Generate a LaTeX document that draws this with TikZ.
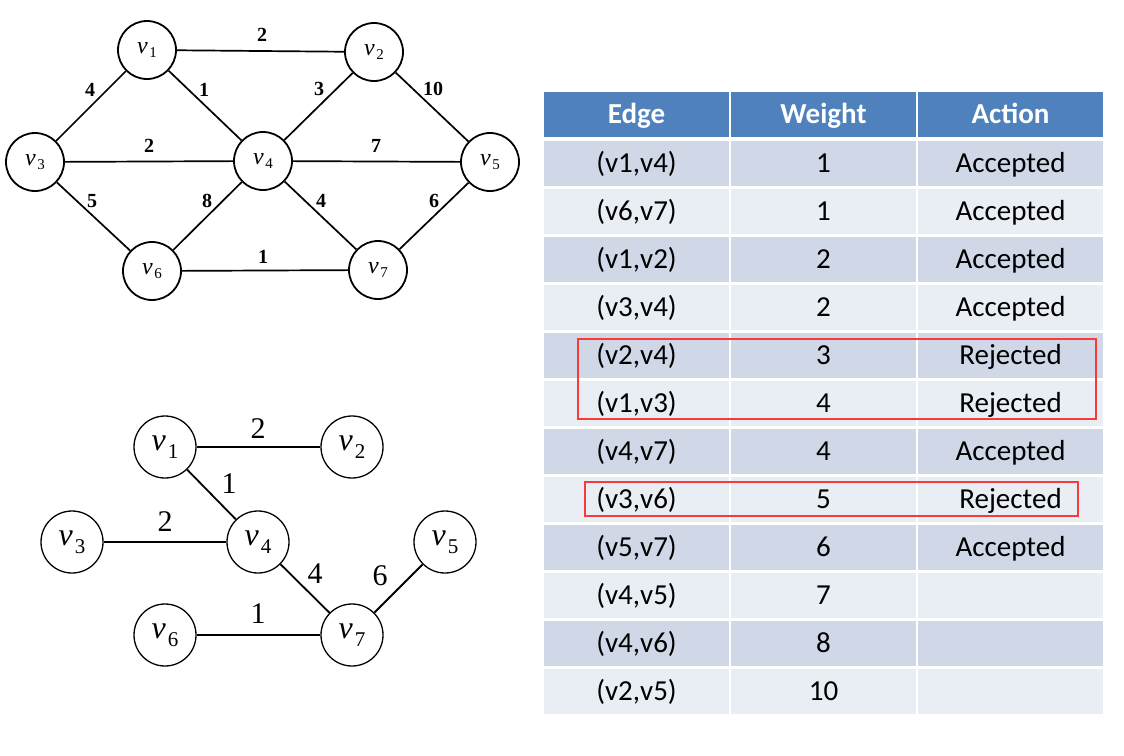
\documentclass[tikz,border=0pt]{standalone}
\usepackage{fontspec}
\setmainfont{Liberation Serif}
\newfontfamily\tabfont{Carlito}
\definecolor{hdr}{HTML}{4F81BD}
\definecolor{rowa}{HTML}{D0D8E8}
\definecolor{rowb}{HTML}{E9EDF4}
\definecolor{rej}{HTML}{F83A3A}
\newcommand{\tv}[1]{{\fontsize{24}{24}\selectfont\itshape v}\kern1.5pt\raisebox{-4pt}{\fontsize{15}{15}\selectfont #1}}
\newcommand{\bv}[1]{{\fontsize{32}{32}\selectfont\itshape v}\kern2pt\raisebox{-8pt}{\fontsize{21}{21}\selectfont #1}}
\tikzset{
  tnode/.style={circle, draw, line width=1.8pt, minimum size=58pt, inner sep=0pt},
  bnode/.style={circle, draw, line width=1.3pt, minimum size=62pt, inner sep=0pt},
  tedge/.style={line width=1.7pt},
  bedge/.style={line width=1.8pt},
  tlbl/.style={font=\bfseries\fontsize{20}{20}\selectfont, inner sep=0pt},
  blbl/.style={font=\fontsize{30}{30}\selectfont, inner sep=0pt},
  cell/.style={minimum width=185pt, minimum height=45pt, inner sep=0pt, text height=18.5pt, text depth=0pt},
  hcell/.style={cell, fill=hdr, text=white, font=\tabfont\bfseries\fontsize{29}{29}\selectfont},
  bcell/.style={cell, font=\tabfont\fontsize{29}{29}\selectfont},
  redbox/.style={draw=rej, line width=2.7pt}
}
\begin{document}
\begin{tikzpicture}[x=1pt,y=-1pt]
\useasboundingbox[fill=white] (0,0) rectangle (1124,755);
% ---- top graph ----
\node[tnode] (t1) at (147,50) {\tv{1}};
\node[tnode] (t2) at (374,52) {\tv{2}};
\node[tnode] (t3) at (35,162) {\tv{3}};
\node[tnode] (t4) at (263,161) {\tv{4}};
\node[tnode] (t5) at (490,162) {\tv{5}};
\node[tnode] (t6) at (152,271) {\tv{6}};
\node[tnode] (t7) at (378,270) {\tv{7}};
\draw[tedge] (t1) -- (t2);
\draw[tedge] (t1) -- (t3);
\draw[tedge] (t1) -- (t4);
\draw[tedge] (t2) -- (t4);
\draw[tedge] (t2) -- (t5);
\draw[tedge] (t3) -- (t4);
\draw[tedge] (t4) -- (t5);
\draw[tedge] (t3) -- (t6);
\draw[tedge] (t4) -- (t6);
\draw[tedge] (t4) -- (t7);
\draw[tedge] (t5) -- (t7);
\draw[tedge] (t6) -- (t7);
\node[tlbl] (l12) at (262,35) {2};
\node[tlbl] (l13) at (90,90) {4};
\node[tlbl] (l14) at (204,90) {1};
\node[tlbl] (l24) at (319,89) {3};
\node[tlbl] (l25) at (433,89) {10};
\node[tlbl] (l34) at (149,146) {2};
\node[tlbl] (l45) at (376,146) {7};
\node[tlbl] (l36) at (92,201) {5};
\node[tlbl] (l46) at (207,201) {8};
\node[tlbl] (l47) at (321,201) {4};
\node[tlbl] (l57) at (434,201) {6};
\node[tlbl] (l67) at (263,257) {1};
% ---- bottom graph ----
\node[bnode] (b1) at (165,447) {\bv{1}};
\node[bnode] (b2) at (352,447) {\bv{2}};
\node[bnode] (b3) at (72,542) {\bv{3}};
\node[bnode] (b4) at (258,542) {\bv{4}};
\node[bnode] (b5) at (445,542) {\bv{5}};
\node[bnode] (b6) at (165,635) {\bv{6}};
\node[bnode] (b7) at (352,635) {\bv{7}};
\draw[bedge] (b1) -- (b2);
\draw[bedge] (b1) -- (b4);
\draw[bedge] (b3) -- (b4);
\draw[bedge] (b4) -- (b7);
\draw[bedge] (b5) -- (b7);
\draw[bedge] (b6) -- (b7);
\node[blbl] (m12) at (258,429) {2};
\node[blbl] (m14) at (229,484) {1};
\node[blbl] (m34) at (165,522) {2};
\node[blbl] (m47) at (315,574) {4};
\node[blbl] (m57) at (380,576) {6};
\node[blbl] (m67) at (258,614) {1};
% ---- table ----
\node[hcell] (he) at (636.5,114) {Edge};
\node[hcell] (hw) at (823.5,114) {Weight};
\node[hcell] (ha) at (1010.5,114) {Action};
\foreach \e/\w/\a [count=\i] in {
  {(v1,v4)}/1/Accepted, {(v6,v7)}/1/Accepted, {(v1,v2)}/2/Accepted,
  {(v3,v4)}/2/Accepted, {(v2,v4)}/3/Rejected, {(v1,v3)}/4/Rejected,
  {(v4,v7)}/4/Accepted, {(v3,v6)}/5/Rejected, {(v5,v7)}/6/Accepted,
  {(v4,v5)}/7/{}, {(v4,v6)}/8/{}, {(v2,v5)}/10/{}} {
  \pgfmathsetmacro\yy{163+48*(\i-1)}
  \ifodd\i\def\rc{rowa}\else\def\rc{rowb}\fi
  \node[bcell, fill=\rc] (e\i) at (636.5,\yy) {\e};
  \node[bcell, fill=\rc] (w\i) at (823.5,\yy) {\w};
  \node[bcell, fill=\rc] (a\i) at (1010.5,\yy) {\a};
}
\draw[redbox] (578,339) rectangle (1096,419);
\draw[redbox] (585,482) rectangle (1078,516);
\end{tikzpicture}
\end{document}
